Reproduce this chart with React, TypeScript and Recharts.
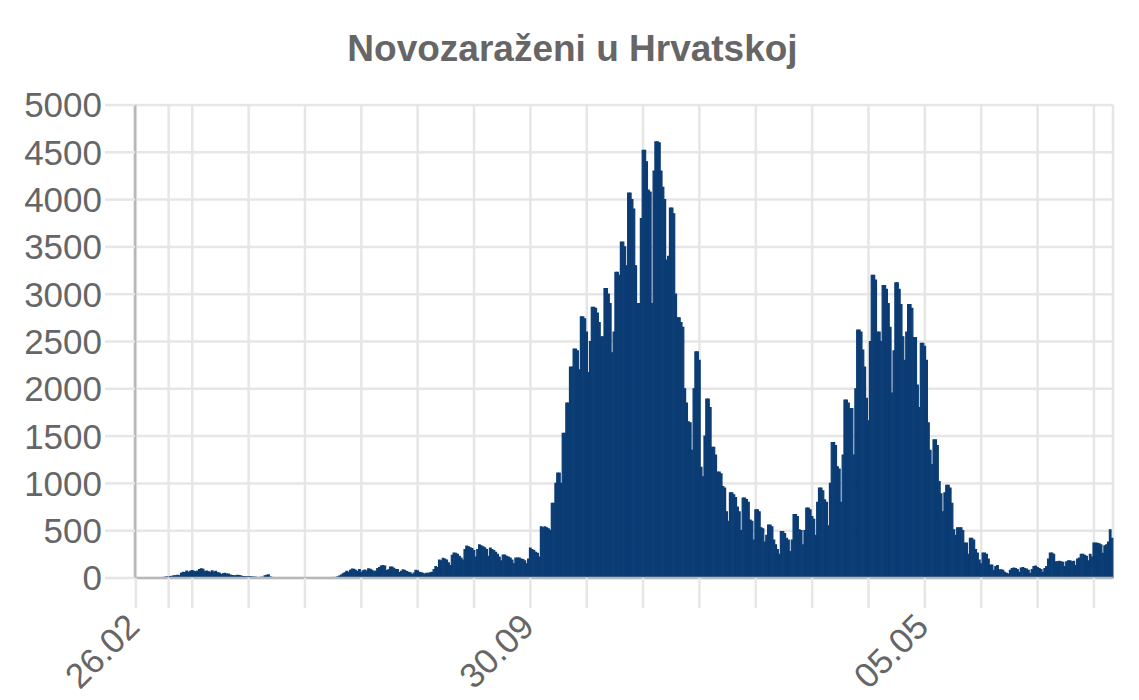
import React from 'react';
import { BarChart, Bar, XAxis, YAxis, CartesianGrid } from 'recharts';

// Daily new cases in Croatia, day 0 = 26.02.2020
const spring2020 = [
  1, 1, 1, 0, 0, 0, 1,
  0, 1, 1, 1, 1, 0, 1,
  3, 5, 7, 11, 6, 16, 17,
  24, 24, 27, 22, 49, 60, 56,
  72, 60, 71, 78, 70, 65, 73,
  90, 96, 91, 68, 72, 66, 60,
  75, 63, 70, 55, 52, 35, 45,
  48, 42, 40, 30, 26, 22, 24,
  27, 26, 20, 14, 14, 11, 13,
  12, 10, 9, 7, 5, 3, 8,
  6, 22, 28, 32, 10, 6, 3,
  3, 2, 3, 4, 1, 1, 1,
  1, 0, 0, 0, 1, 0, 0,
  0, 0, 1, 0, 0, 0, 0,
  0, 0, 0, 1, 2, 1, 0,
  2, 1, 3, 5, 3, 6, 11,
];

const summer2020 = [
  20, 30, 45, 55, 70, 60, 80,
  95, 91, 80, 67, 88, 56, 76,
  83, 72, 96, 92, 80, 65, 74,
  100, 110, 127, 132, 125, 79, 85,
  115, 116, 103, 90, 88, 58, 70,
  85, 77, 68, 60, 55, 37, 52,
  80, 75, 60, 55, 50, 40, 50,
  50, 55, 60, 90, 120, 110, 190,
  180, 208, 200, 190, 160, 130, 240,
  264, 260, 250, 230, 210, 190, 300,
  338, 330, 320, 310, 290, 220, 300,
  350, 340, 330, 320, 300, 230, 317,
  300, 290, 270, 250, 220, 180, 243,
  243, 230, 220, 210, 190, 150, 211,
  211, 210, 200, 195, 180, 150, 200,
];

const earlyOctober2020 = [
  317, 300, 290, 270, 260, 220, 540,
  530, 540, 530, 520, 500, 790, 790,
];

const autumnWave2020 = [
  1000, 1110, 1110, 1000, 1530, 1530, 1850,
  1850, 2230, 2230, 2420, 2420, 2400, 2200,
  2760, 2760, 2740, 2600, 2170, 2500, 2860,
  2860, 2850, 2800, 2700, 2550, 2550, 3060,
  3060, 3000, 2900, 2380, 2600, 3230, 3230,
  3200, 3550, 3550, 3500, 3300, 4070, 4070,
  4000, 3900, 3300, 2900, 2900, 3800, 4520,
  4520, 4400, 4100, 4080, 2900, 4300, 4610,
  4610, 4600, 4300, 4130, 4000, 3360, 3400,
  3910, 3910, 3850, 3000, 2750, 2750, 2700,
  2650, 2000, 1850, 1650, 1640, 1350,
];

const winter2021 = [
  2000, 2390, 2390, 2300, 1170, 1070, 1500,
  1890, 1890, 1800, 1380, 1380, 1300, 1120,
  1120, 1100, 965, 950, 700, 600, 900,
  900, 880, 850, 750, 700, 500, 845,
  845, 830, 800, 613, 600, 400, 720,
  720, 700, 530, 520, 380, 450, 560,
  560, 540, 400, 350, 300, 250, 490,
  490, 470, 420, 400, 280, 400, 670,
  670, 650, 510, 500, 350, 500, 740,
  740, 720, 650, 620, 450, 800, 950,
  950, 920, 825, 800, 550, 1000, 1430,
  1430, 1400, 1175, 1150, 800, 1300, 1880,
  1880, 1850, 1790, 1790, 1300, 2000, 2620,
  2620, 2600,
];

const springWave2021 = [
  2410, 2230, 1900, 1660, 2500, 3200, 3200,
  3150, 2600, 2600, 2500, 3090, 3090, 3050,
  2900, 2650, 1955, 2400, 3120, 3120, 3050,
  2890, 2550, 2300, 2600, 2890, 2890, 2850,
  2540, 2540, 2040, 1800, 2480, 2480, 2450,
  2300, 1640, 1350, 1200, 1460, 1460, 1400,
  1020, 890, 700, 900, 980, 980, 950,
  790, 510, 450, 530, 530, 530, 500,
  370, 370, 250, 420, 420, 400, 300,
  264, 190, 150, 264, 264, 250, 200,
  137, 137, 80, 120, 130, 85, 85,
  80, 60, 50,
];

const summer2021 = [
  40, 80, 100, 105, 100, 90, 60,
  105, 110, 100, 95, 80, 50, 90,
  120, 127, 110, 100, 90, 60, 100,
  120, 200, 264, 264, 250, 170, 170,
  175, 170, 165, 120, 170, 180, 180,
  170, 175, 130, 200, 210, 250, 250,
  240, 230, 180, 250, 220, 370, 370,
  365, 360, 350, 260, 340, 350, 380,
  510, 420,
];

const newCases = [
  ...spring2020,
  ...summer2020,
  ...earlyOctober2020,
  ...autumnWave2020,
  ...winter2021,
  ...springWave2021,
  ...summer2021,
];

// x-axis: labelled days and grid-line days (day index from 26.02.2020)
const labelDays = [0, 217, 434];
const labelTexts = ['26.02', '30.09', '05.05'];
const gridDays = [0, 18, 31, 62, 93, 124, 155, 186, 217, 248, 279, 310, 341, 372, 403, 434, 465, 496, 527];
const yTicks = [0, 500, 1000, 1500, 2000, 2500, 3000, 3500, 4000, 4500, 5000];

const data = newCases.map((v, i) => ({ day: i, cases: v }));

const FONT = "'Liberation Sans', Arial, Helvetica, sans-serif";
const W = 1131;
const H = 692;
const BAR = '#0b3c74';

const XTick = (props: any) => {
  const { x, y, payload } = props;
  const idx = labelDays.indexOf(payload.value);
  if (idx < 0) return null;
  const ax = x - 3;
  const ay = y + 10;
  return (
    <text
      x={ax}
      y={ay}
      dy="0.35em"
      textAnchor="end"
      fill="#666"
      fontSize={35}
      fontFamily={FONT}
      transform={`rotate(-45 ${ax} ${ay})`}
    >
      {labelTexts[idx]}
    </text>
  );
};

export default function App() {
  return (
    <div style={{ position: 'relative', width: W, height: H, fontFamily: FONT, background: '#fff' }}>
      <BarChart
        width={W}
        height={H}
        data={data}
        margin={{ top: 97, right: 26, left: 0, bottom: 0 }}
        barCategoryGap={0}
        barGap={0}
      >
        <CartesianGrid stroke="#e6e6e6" strokeWidth={2.5} />
        <XAxis
          dataKey="day"
          type="category"
          ticks={gridDays}
          interval={0}
          height={122}
          tickSize={30}
          tickMargin={2}
          tickLine={{ stroke: '#e6e6e6', strokeWidth: 2.5 }}
          axisLine={{ stroke: '#b8b8b8', strokeWidth: 2.5 }}
          tick={<XTick />}
        />
        <YAxis
          type="number"
          domain={[0, 5000]}
          ticks={yTicks}
          interval={0}
          width={127}
          tickSize={30}
          tickMargin={3}
          tickLine={{ stroke: '#e6e6e6', strokeWidth: 2.5 }}
          axisLine={{ stroke: '#b8b8b8', strokeWidth: 2.5 }}
          tick={{ fill: '#666', fontSize: 35, fontFamily: FONT }}
        />
        <Bar
          dataKey="cases"
          fill={BAR}
          stroke={BAR}
          strokeWidth={1.2}
          barSize={2}
          isAnimationActive={false}
        />
      </BarChart>
      <svg
        width={W}
        height={80}
        style={{ position: 'absolute', left: 0, top: 0, pointerEvents: 'none' }}
      >
        <text
          x={564.5}
          y={53}
          textAnchor="middle"
          fill="#666"
          fontSize={37}
          fontWeight="bold"
          fontFamily={FONT}
        >
          Novozaraženi u Hrvatskoj
        </text>
      </svg>
    </div>
  );
}
